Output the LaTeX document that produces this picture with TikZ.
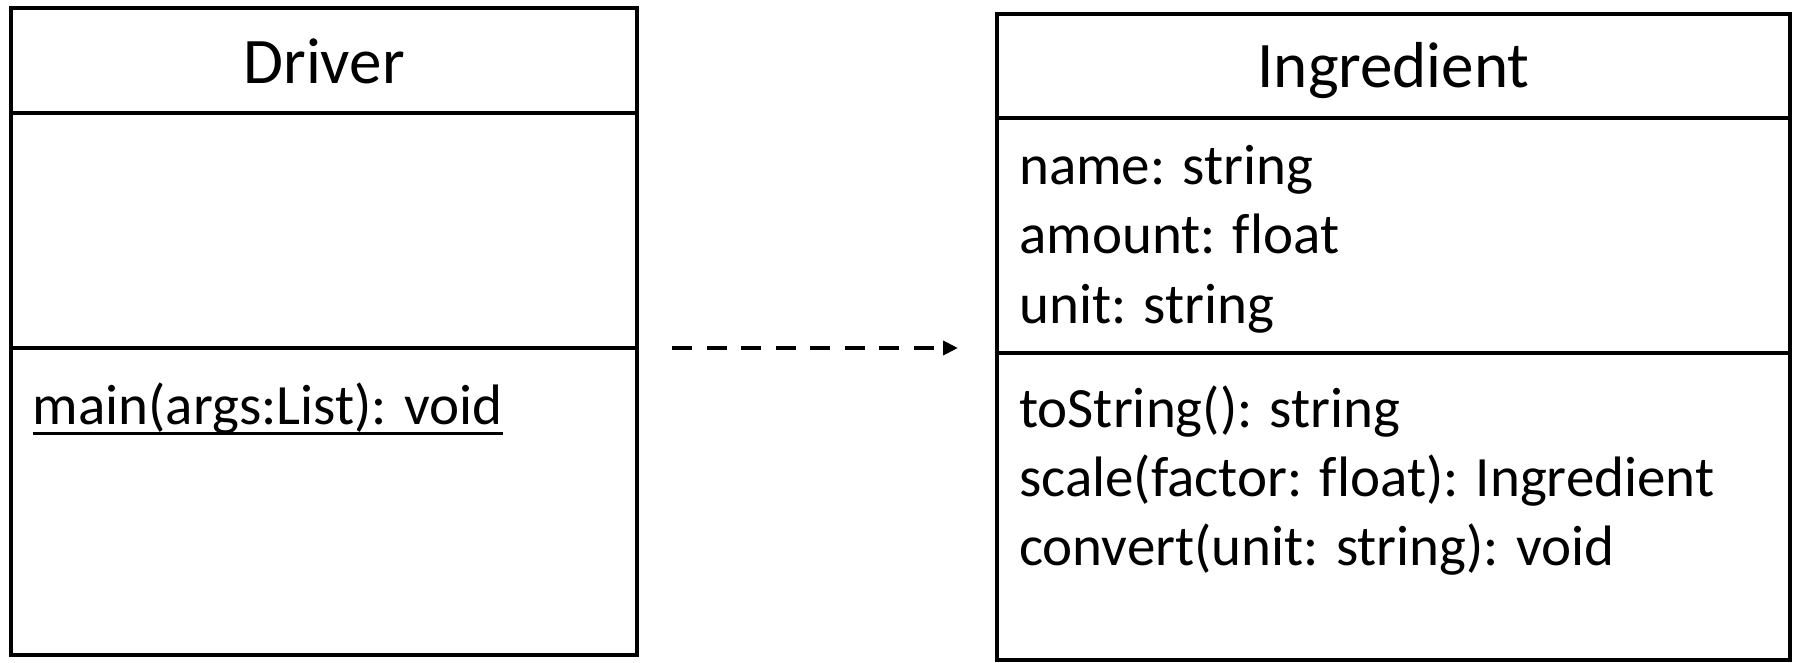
\documentclass[tikz,border=0pt]{standalone}
\usepackage{fontspec}
\setmainfont{Carlito}[Ligatures={NoCommon}]
\usetikzlibrary{arrows.meta}
\tikzset{
  classbox/.style={draw=black, line width=4pt, fill=white, outer sep=0pt, inner sep=0pt},
  divider/.style={draw=black, line width=4pt},
  titletext/.style={font=\fontsize{65}{78}\selectfont, inner sep=0pt, anchor=base},
  membertext/.style={font=\fontsize{57}{69}\selectfont, inner sep=0pt, anchor=base west},
  dep/.style={draw=black, line width=4.2pt, dash pattern=on 20pt off 14.5pt,
    -{Triangle[length=15pt,width=14pt]}, shorten <=35pt, shorten >=39pt}
}
\begin{document}
\begin{tikzpicture}[x=1pt,y=-1pt]
\useasboundingbox[fill=white] (0,0) rectangle (1794,663);
% Driver class
\node[classbox, minimum width=626pt, minimum height=647pt] (driver) at (324,331.5) {};
\coordinate (dhead) at (11,113);
\coordinate (dsplit) at (11,348);
\draw[divider] (dhead) -- (dhead -| driver.east);
\draw[divider] (dsplit) -- (dsplit -| driver.east);
\node[titletext] (drivername) at (324,83.5) {Driver};
\node[membertext] (mainop) at (32.5,424) {main(args:List): void};
\draw[line width=3pt] ([yshift=-9pt]mainop.base west) -- ([yshift=-9pt]mainop.base east);
% Ingredient class
\node[classbox, minimum width=793pt, minimum height=646pt] (ingredient) at (1393.5,337) {};
\coordinate (ihead) at (997,118);
\coordinate (isplit) at (997,353);
\draw[divider] (ihead) -- (ihead -| ingredient.east);
\draw[divider] (isplit) -- (isplit -| ingredient.east);
\node[titletext] (ingname) at (1393.5,88) {Ingredient};
\node[membertext] (attrname) at (1019,185) {name: string};
\node[membertext] (attramount) at (1019,254) {amount: float};
\node[membertext] (attrunit) at (1019,323.5) {unit: string};
\node[membertext] (optostring) at (1019,427) {toString(): string};
\node[membertext] (opscale) at (1019,496.5) {scale(factor: float): Ingredient};
\node[membertext] (opconvert) at (1019,565.5) {convert(unit: string): void};
% dependency
\coordinate (depstart) at (driver.east |- 0,348);
\draw[dep] (depstart) -- (depstart -| ingredient.west);
\end{tikzpicture}
\end{document}
